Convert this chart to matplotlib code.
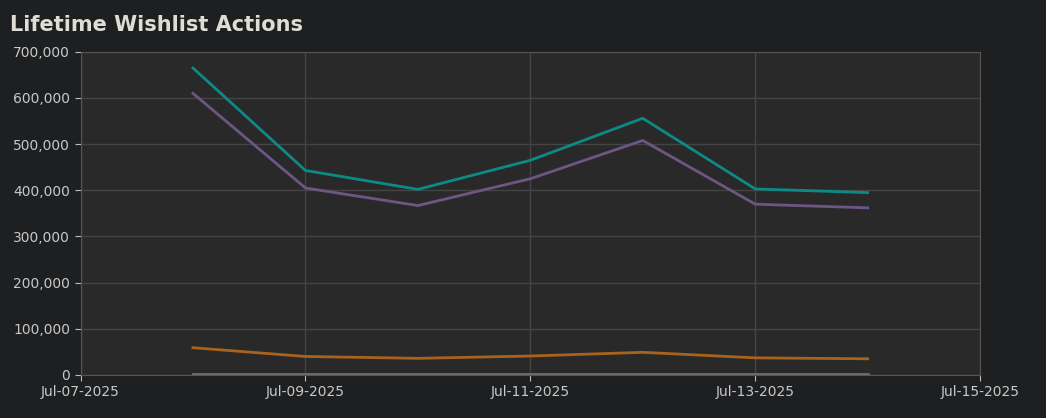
import matplotlib
matplotlib.use('Agg')
import matplotlib.pyplot as plt
import matplotlib.dates as mdates
from matplotlib.ticker import FuncFormatter
import datetime as dt

dates = [dt.date(2025, 7, d) for d in range(8, 15)]
teal = [665000, 443000, 402000, 465000, 556000, 403000, 395000]
purple = [610000, 405000, 367000, 425000, 508000, 370000, 362000]
orange = [59000, 40000, 36000, 41000, 49000, 37000, 35000]
gray = [3000, 3000, 3000, 3000, 3000, 3000, 3000]

fig = plt.figure(figsize=(10.46, 4.18), dpi=100, facecolor='#1e1f21')
ax = fig.add_axes([0.077, 0.103, 0.86, 0.773], facecolor='#292929')

ax.plot(dates, teal, color='#0e8a86', lw=2)
ax.plot(dates, purple, color='#6e5684', lw=2)
ax.plot(dates, orange, color='#a8641e', lw=2)
ax.plot(dates, gray, color='#6e6e6a', lw=2)

ax.set_xlim(dt.date(2025, 7, 7), dt.date(2025, 7, 15))
ax.set_ylim(0, 700000)
ax.set_yticks(range(0, 700001, 100000))
ax.yaxis.set_major_formatter(FuncFormatter(lambda v, p: f"{int(v):,}"))
ax.xaxis.set_major_locator(mdates.DayLocator(interval=2))
ax.xaxis.set_major_formatter(mdates.DateFormatter('%b-%d-%Y'))

ax.grid(color='#444444', lw=1)
ax.set_axisbelow(True)
for s in ax.spines.values():
    s.set_color('#555555')
ax.tick_params(colors='#bdbdbd', labelsize=10, length=4)
for t in ax.get_xticklabels() + ax.get_yticklabels():
    t.set_color('#c8c8c8')

fig.text(0.01, 0.94, 'Lifetime Wishlist Actions', color='#e0dcd6', fontsize=15,
         fontweight='bold', va='center')

fig.savefig('out.png', facecolor=fig.get_facecolor())
